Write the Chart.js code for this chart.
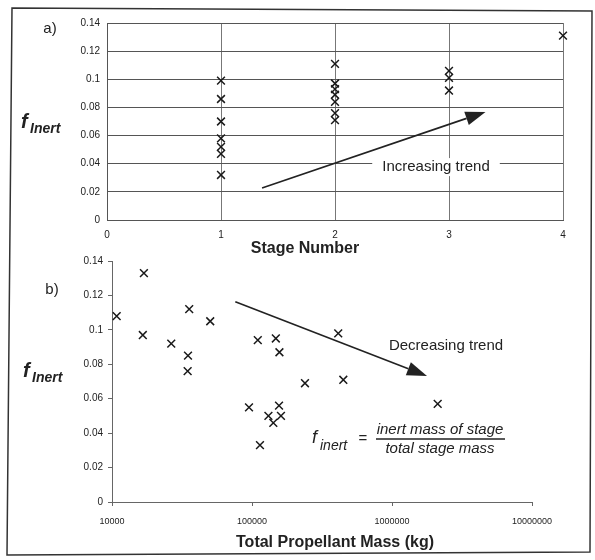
<!DOCTYPE html>
<html>
<head>
<meta charset="utf-8">
<script src="https://cdn.jsdelivr.net/npm/chart.js@4"></script>
<style>
  body { margin: 0; background: #fff; }
  #wrap { position: relative; width: 595px; height: 560px; }
  #wrap canvas { position: absolute; left: 0; top: 0; }
</style>
</head>
<body>
<div id="wrap">
  <canvas id="stage-chart" width="595" height="560"></canvas>
  <canvas id="mass-chart" width="595" height="560"></canvas>
</div>
<script>
// a) inert fraction per stage number
const stages = [1, 2, 3, 4];
const stage1Finert = [0.099, 0.086, 0.070, 0.058, 0.052, 0.047, 0.032];
const stage2Finert = [0.111, 0.097, 0.093, 0.089, 0.084, 0.076, 0.071];
const stage3Finert = [0.106, 0.101, 0.092];
const stage4Finert = [0.131];

// b) inert fraction vs total propellant mass (kg)
const propellantMass = [10800, 16900, 16600, 26500, 35600, 34900, 34700, 50300, 95200, 110000, 114000,
  131000, 142000, 148000, 156000, 157000, 161000, 239000, 413000, 449000, 2120000];
const massFinert = [0.108, 0.133, 0.097, 0.092, 0.112, 0.085, 0.076, 0.105, 0.055, 0.094, 0.033,
  0.050, 0.046, 0.095, 0.056, 0.087, 0.050, 0.069, 0.098, 0.071, 0.057];

const stageTicks = [0, 1, 2, 3, 4];
const finertTicks = [0, 0.02, 0.04, 0.06, 0.08, 0.1, 0.12, 0.14];
const massTicks = [10000, 100000, 1000000, 10000000];

Chart.defaults.font.family = "'Liberation Sans', Arial, sans-serif";
Chart.defaults.color = '#222';

const FONT = "'Liberation Sans', Arial, sans-serif";

let stagePoints = [];
[stage1Finert, stage2Finert, stage3Finert, stage4Finert].forEach((vals, i) => {
  vals.forEach(v => stagePoints.push({x: stages[i], y: v}));
});
let massPoints = propellantMass.map((m, i) => ({x: m, y: massFinert[i]}));

function fixTicks(list){
  return function(scale){ scale.ticks = list.map(v => ({value: v})); };
}

function drawArrow(ctx, x1, y1, x2, y2, len, half){
  let a = Math.atan2(y2 - y1, x2 - x1);
  let bx = x2 - Math.cos(a) * len, by = y2 - Math.sin(a) * len;
  ctx.beginPath();
  ctx.moveTo(x1, y1);
  ctx.lineTo(bx, by);
  ctx.stroke();
  ctx.beginPath();
  ctx.moveTo(x2, y2);
  ctx.lineTo(bx + Math.sin(a) * half, by - Math.cos(a) * half);
  ctx.lineTo(bx - Math.sin(a) * half, by + Math.cos(a) * half);
  ctx.closePath();
  ctx.fill();
}

function finertLabel(ctx, x, y){
  ctx.textAlign = 'left';
  ctx.textBaseline = 'alphabetic';
  ctx.font = 'italic bold 20px ' + FONT;
  ctx.fillText('f', x, y);
  ctx.font = 'italic bold 14px ' + FONT;
  ctx.fillText('Inert', x + 9, y + 5);
}

const stageNotes = {
  id: 'stageNotes',
  afterDraw(chart){
    const ctx = chart.ctx;
    const xs = chart.scales.x, ys = chart.scales.y;
    ctx.save();
    ctx.fillStyle = '#222';
    ctx.strokeStyle = '#222';

    ctx.font = '15px ' + FONT;
    ctx.textAlign = 'center';
    ctx.textBaseline = 'middle';
    ctx.fillText('a)', 50, 29);

    finertLabel(ctx, 21, 128);

    ctx.font = 'bold 16px ' + FONT;
    ctx.textAlign = 'center';
    ctx.textBaseline = 'middle';
    ctx.fillText('Stage Number', 305, 249);

    // trend label with a white box over the grid
    let tx = xs.getPixelForValue(2.886), ty = ys.getPixelForValue(0.0376);
    ctx.font = '15px ' + FONT;
    let w = ctx.measureText('Increasing trend').width;
    ctx.fillStyle = '#fff';
    ctx.fillRect(tx - w / 2 - 10, ty - 9, w + 20, 18);
    ctx.fillStyle = '#222';
    ctx.fillText('Increasing trend', tx, ty);

    ctx.lineWidth = 1.6;
    drawArrow(ctx, xs.getPixelForValue(1.36), ys.getPixelForValue(0.0227),
      xs.getPixelForValue(3.32), ys.getPixelForValue(0.0768), 20, 7);
    ctx.restore();
  }
};

const massNotes = {
  id: 'massNotes',
  afterDraw(chart){
    const ctx = chart.ctx;
    const xs = chart.scales.x, ys = chart.scales.y;
    ctx.save();
    ctx.fillStyle = '#222';
    ctx.strokeStyle = '#222';

    ctx.font = '15px ' + FONT;
    ctx.textAlign = 'center';
    ctx.textBaseline = 'middle';
    ctx.fillText('b)', 52, 290);

    finertLabel(ctx, 23, 377);

    ctx.font = 'bold 16px ' + FONT;
    ctx.textAlign = 'center';
    ctx.textBaseline = 'middle';
    ctx.fillText('Total Propellant Mass (kg)', 335, 543);

    ctx.font = '15px ' + FONT;
    ctx.fillText('Decreasing trend', xs.getPixelForValue(2432000), ys.getPixelForValue(0.0906));

    ctx.lineWidth = 1.6;
    drawArrow(ctx, xs.getPixelForValue(76000), ys.getPixelForValue(0.1163),
      xs.getPixelForValue(1778000), ys.getPixelForValue(0.0732), 20, 7);

    // f_inert = inert mass of stage / total stage mass
    let fx = xs.getPixelForValue(2202000), fy = ys.getPixelForValue(0.0366);
    ctx.font = 'italic 15px ' + FONT;
    ctx.textBaseline = 'middle';
    ctx.fillText('inert mass of stage', fx, fy - 9);
    ctx.fillText('total stage mass', fx, fy + 10);
    ctx.lineWidth = 1.5;
    ctx.beginPath();
    ctx.moveTo(fx - 64, fy);
    ctx.lineTo(fx + 65, fy);
    ctx.stroke();
    ctx.font = '15px ' + FONT;
    ctx.fillText('=', fx - 77, fy);
    ctx.textAlign = 'left';
    ctx.textBaseline = 'alphabetic';
    ctx.font = 'italic 18px ' + FONT;
    ctx.fillText('f', fx - 128, fy + 4);
    ctx.font = 'italic 14px ' + FONT;
    ctx.fillText('inert', fx - 120, fy + 11);

    // page frame
    ctx.strokeStyle = '#333';
    ctx.lineWidth = 1.5;
    ctx.beginPath();
    ctx.moveTo(12, 8);
    ctx.lineTo(592, 11);
    ctx.lineTo(590, 552);
    ctx.lineTo(7, 555);
    ctx.closePath();
    ctx.stroke();
    ctx.restore();
  }
};

new Chart(document.getElementById('stage-chart'), {
  type: 'scatter',
  data: {
    datasets: [{
      data: stagePoints,
      pointStyle: 'crossRot',
      pointRadius: 5.5,
      borderColor: '#1a1a1a',
      borderWidth: 1.5,
      clip: false
    }]
  },
  options: {
    responsive: false,
    animation: false,
    events: [],
    layout: { padding: { left: 0, top: 23, right: 32, bottom: 310 } },
    plugins: { legend: { display: false }, tooltip: { enabled: false } },
    scales: {
      x: {
        type: 'linear', min: 0, max: 4,
        afterBuildTicks: fixTicks(stageTicks),
        afterFit(s){ s.height = 30; },
        grid: { color: '#777', lineWidth: 1, drawTicks: false },
        border: { color: '#555' },
        ticks: { padding: 9, font: { size: 10 }, color: '#222' }
      },
      y: {
        min: 0, max: 0.14,
        afterBuildTicks: fixTicks(finertTicks),
        afterFit(s){ s.width = 107; },
        grid: { color: '#555', lineWidth: 1, drawTicks: false },
        border: { color: '#555' },
        ticks: { padding: 7, font: { size: 10 }, color: '#222', callback: v => String(+v.toFixed(2)) }
      }
    }
  },
  plugins: [stageNotes]
});

new Chart(document.getElementById('mass-chart'), {
  type: 'scatter',
  data: {
    datasets: [{
      data: massPoints,
      pointStyle: 'crossRot',
      pointRadius: 5.5,
      borderColor: '#1a1a1a',
      borderWidth: 1.5,
      clip: false
    }]
  },
  options: {
    responsive: false,
    animation: false,
    events: [],
    layout: { padding: { left: 0, top: 261, right: 63, bottom: 28 } },
    plugins: { legend: { display: false }, tooltip: { enabled: false } },
    scales: {
      x: {
        type: 'logarithmic', min: 10000, max: 10000000,
        afterBuildTicks: fixTicks(massTicks),
        afterFit(s){ s.height = 30; },
        grid: { drawOnChartArea: false, color: '#666', tickLength: 4 },
        border: { color: '#666' },
        ticks: { padding: 10, font: { size: 9 }, color: '#222', callback: v => String(v) }
      },
      y: {
        min: 0, max: 0.14,
        afterBuildTicks: fixTicks(finertTicks),
        afterFit(s){ s.width = 112; },
        grid: { drawOnChartArea: false, color: '#666', tickLength: 4 },
        border: { color: '#666' },
        ticks: { padding: 5, font: { size: 10 }, color: '#222', callback: v => String(+v.toFixed(2)) }
      }
    }
  },
  plugins: [massNotes]
});
</script>
</body>
</html>
